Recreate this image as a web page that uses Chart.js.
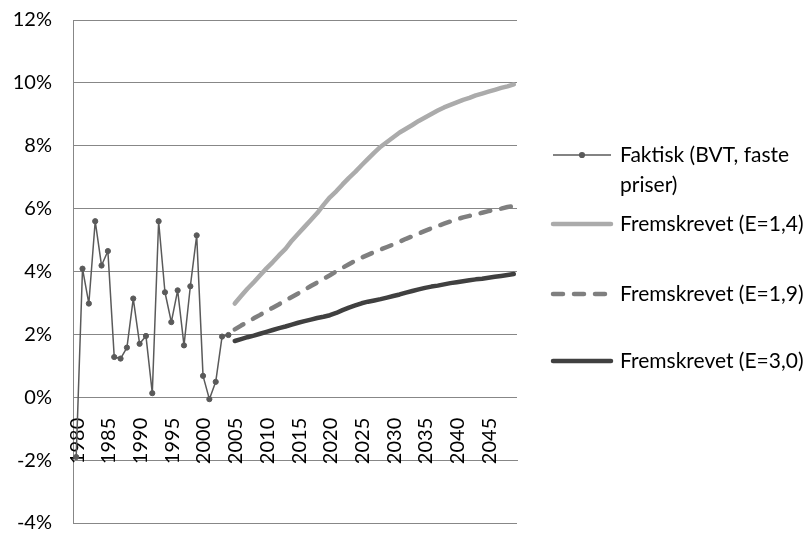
<!DOCTYPE html>
<html>
<head>
<meta charset="utf-8">
<title>BVT – faktisk og fremskrevet vekst</title>
<script src="https://cdn.jsdelivr.net/npm/chart.js@4.4.1/dist/chart.umd.min.js"></script>
<style>
  html, body { margin: 0; padding: 0; background: #ffffff; }
  #wrap { width: 808px; height: 533px; position: relative; }
</style>
</head>
<body>
<div id="wrap"><canvas id="chart" width="808" height="533"></canvas></div>
<script>
// Categories: one per year, 1980–2049
const years = [];
for (let yr = 1980; yr <= 2049; yr++) years.push(String(yr));

// Year labels shown on the category axis
const xTickLabels = ['1980', '1985', '1990', '1995', '2000', '2005', '2010',
                     '2015', '2020', '2025', '2030', '2035', '2040', '2045'];

// Value axis ticks (percent)
const yTicks = [-4, -2, 0, 2, 4, 6, 8, 10, 12];

// Faktisk (BVT, faste priser), 1980–2004, percent
const faktisk = [-1.9, 4.09, 2.98, 5.6, 4.19, 4.65, 1.28, 1.23, 1.58, 3.14,
                 1.70, 1.95, 0.13, 5.6, 3.34, 2.39, 3.40, 1.65, 3.53, 5.15,
                 0.68, -0.06, 0.49, 1.93, 1.98];

// Fremskrevet, 2005–2049, percent
const fremE14 = [2.98, 3.22, 3.45, 3.66, 3.88, 4.10, 4.30, 4.52, 4.72, 4.98,
                 5.20, 5.42, 5.64, 5.86, 6.12, 6.36, 6.55, 6.77, 6.98, 7.17,
                 7.38, 7.58, 7.78, 7.97, 8.12, 8.27, 8.42, 8.54, 8.66, 8.79,
                 8.90, 9.01, 9.12, 9.22, 9.30, 9.38, 9.46, 9.52, 9.60, 9.66,
                 9.72, 9.78, 9.84, 9.89, 9.95];
const fremE19 = [2.16, 2.28, 2.39, 2.51, 2.62, 2.74, 2.85, 2.96, 3.08, 3.19,
                 3.30, 3.42, 3.54, 3.65, 3.77, 3.88, 4.00, 4.12, 4.23, 4.34,
                 4.44, 4.53, 4.62, 4.70, 4.78, 4.86, 4.95, 5.04, 5.12, 5.21,
                 5.29, 5.37, 5.45, 5.52, 5.59, 5.66, 5.72, 5.77, 5.82, 5.87,
                 5.92, 5.96, 6.00, 6.05, 6.08];
const fremE30 = [1.79, 1.85, 1.91, 1.96, 2.02, 2.08, 2.14, 2.20, 2.25, 2.31,
                 2.37, 2.42, 2.47, 2.52, 2.56, 2.61, 2.68, 2.77, 2.85, 2.92,
                 2.99, 3.04, 3.08, 3.12, 3.17, 3.22, 3.27, 3.33, 3.38, 3.43,
                 3.48, 3.52, 3.55, 3.59, 3.63, 3.66, 3.69, 3.72, 3.75, 3.77,
                 3.80, 3.83, 3.86, 3.89, 3.92];

const seriesNames = ['Faktisk (BVT, faste priser)', 'Fremskrevet (E=1,4)',
                     'Fremskrevet (E=1,9)', 'Fremskrevet (E=3,0)'];

// The category axis crosses the value axis at -2 %
const axisCross = -2;

const FONT = 'Lato, "Liberation Sans", sans-serif';
const AXIS_SIZE = 20;
const LEGEND_SIZE = 21;
const GRID = '#878787';
const ACTUAL = '#5a5a5a';

const histLen = faktisk.length;
const projLen = fremE14.length;
const pad = n => Array(n).fill(null);

// Rotated year labels sitting on the crossing axis line
const yearLabels = {
  id: 'yearLabels',
  beforeDatasetsDraw(chart) {
    const { ctx, scales: { x, y } } = chart;
    const base = y.getPixelForValue(axisCross);
    ctx.save();
    ctx.font = AXIS_SIZE + 'px ' + FONT;
    ctx.fillStyle = '#000000';
    ctx.textAlign = 'left';
    ctx.textBaseline = 'middle';
    xTickLabels.forEach(lbl => {
      const px = x.getPixelForValue(years.indexOf(lbl));
      ctx.save();
      ctx.translate(px + 1, base + 4);
      ctx.rotate(-Math.PI / 2);
      ctx.fillText(lbl, 0, 0);
      ctx.restore();
    });
    ctx.restore();
  }
};

// Legend at the right, one entry per dataset
const sideLegend = {
  id: 'sideLegend',
  afterDraw(chart) {
    const { ctx } = chart;
    const rows = [
      { ds: 0, text: ['Faktisk (BVT, faste', 'priser)'], y: 155 },
      { ds: 1, text: ['Fremskrevet (E=1,4)'], y: 224 },
      { ds: 2, text: ['Fremskrevet (E=1,9)'], y: 294 },
      { ds: 3, text: ['Fremskrevet (E=3,0)'], y: 361 }
    ];
    const x0 = 553, x1 = 611, tx = 620, lh = 30;
    ctx.save();
    rows.forEach(r => {
      const ds = chart.data.datasets[r.ds];
      ctx.strokeStyle = ds.borderColor;
      ctx.lineWidth = ds.borderWidth;
      ctx.lineCap = ds.borderCapStyle || 'butt';
      ctx.setLineDash(ds.borderDash || []);
      ctx.beginPath();
      ctx.moveTo(x0, r.y);
      ctx.lineTo(x1, r.y);
      ctx.stroke();
      ctx.setLineDash([]);
      if (ds.pointRadius > 0) {
        ctx.fillStyle = ds.pointBackgroundColor;
        ctx.beginPath();
        ctx.arc((x0 + x1) / 2, r.y, ds.pointRadius + 0.5, 0, Math.PI * 2);
        ctx.fill();
      }
      ctx.fillStyle = '#000000';
      ctx.font = LEGEND_SIZE + 'px ' + FONT;
      ctx.textAlign = 'left';
      ctx.textBaseline = 'middle';
      r.text.forEach((t, i) => ctx.fillText(t, tx, r.y + i * lh));
    });
    ctx.restore();
  }
};

Chart.defaults.font.family = FONT;
Chart.defaults.font.size = AXIS_SIZE;
Chart.defaults.color = '#000000';

new Chart(document.getElementById('chart'), {
  type: 'line',
  data: {
    labels: years,
    datasets: [
      {
        label: seriesNames[0],
        data: faktisk.concat(pad(projLen)),
        borderColor: ACTUAL,
        backgroundColor: ACTUAL,
        borderWidth: 1.5,
        borderJoinStyle: 'round',
        pointRadius: 2.6,
        pointBackgroundColor: ACTUAL,
        pointBorderColor: ACTUAL,
        pointBorderWidth: 1,
        order: 0
      },
      {
        label: seriesNames[1],
        data: pad(histLen).concat(fremE14),
        borderColor: '#ababab',
        borderWidth: 4.5,
        borderCapStyle: 'round',
        borderJoinStyle: 'round',
        pointRadius: 0,
        order: 1
      },
      {
        label: seriesNames[2],
        data: pad(histLen).concat(fremE19),
        borderColor: '#7f7f7f',
        borderWidth: 4.5,
        borderDash: [10, 11],
        borderCapStyle: 'round',
        borderJoinStyle: 'round',
        pointRadius: 0,
        order: 2
      },
      {
        label: seriesNames[3],
        data: pad(histLen).concat(fremE30),
        borderColor: '#404040',
        borderWidth: 4.5,
        borderCapStyle: 'round',
        borderJoinStyle: 'round',
        pointRadius: 0,
        order: 3
      }
    ]
  },
  options: {
    responsive: false,
    animation: false,
    devicePixelRatio: 1,
    spanGaps: false,
    layout: { padding: { left: 0, right: 291, top: 20, bottom: 10 } },
    elements: { line: { tension: 0 } },
    plugins: {
      legend: { display: false },
      tooltip: { enabled: false }
    },
    scales: {
      x: {
        type: 'category',
        position: { y: axisCross },
        offset: true,
        grid: { display: true, drawOnChartArea: false, drawTicks: false },
        border: { display: true, color: GRID, width: 1 },
        ticks: { display: false },
        afterFit: s => { s.height = 0; }
      },
      y: {
        type: 'linear',
        min: yTicks[0],
        max: yTicks[yTicks.length - 1],
        afterBuildTicks: s => { s.ticks = yTicks.map(v => ({ value: v })); },
        ticks: {
          padding: 0,
          callback: v => v + '%',
          font: { size: AXIS_SIZE, lineHeight: 1 }
        },
        grid: {
          color: GRID,
          lineWidth: 1,
          drawTicks: true,
          tickLength: 21,
          tickColor: 'rgba(0,0,0,0)'
        },
        border: { display: true, color: GRID, width: 1 },
        afterFit: s => { s.width = 73; }
      }
    }
  },
  plugins: [yearLabels, sideLegend]
});
</script>
</body>
</html>
